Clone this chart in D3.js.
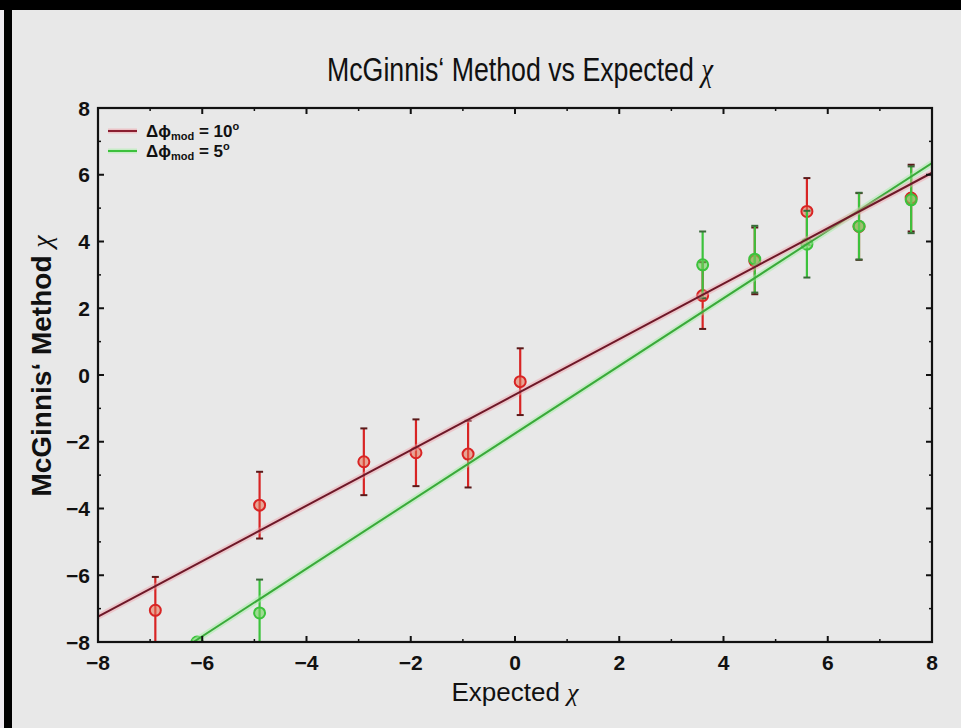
<!DOCTYPE html>
<html>
<head>
<meta charset="utf-8">
<script src="https://cdn.jsdelivr.net/npm/d3@7"></script>
<style>
  html, body { margin: 0; padding: 0; background: #000; }
  svg { display: block; }
</style>
</head>
<body>
<svg id="chart" width="961" height="728"></svg>
<script>
// Measurements: Δφ_mod = 10° (red) and Δφ_mod = 5° (green)
const redX   = [-6.9, -4.9, -2.9, -1.9, -0.9, 0.1, 3.6, 4.6, 5.6, 6.6, 7.6];
const redY   = [-7.05, -3.9, -2.6, -2.33, -2.37, -0.2, 2.38, 3.42, 4.9, 4.45, 5.3];
const redErr = [1, 1, 1, 1, 1, 1, 1, 1, 1, 1, 1];

const greenX   = [-6.1, -4.9, 3.6, 4.6, 5.6, 6.6, 7.6];
const greenY   = [-8.0, -7.13, 3.3, 3.47, 3.92, 4.46, 5.25];
const greenErr = [0, 1, 1, 1, 1, 1, 1];

// Linear fits, given by their end points
const redFitX   = [-8, 8];
const redFitY   = [-7.24, 6.06];
const greenFitX = [-6.17, 8];
const greenFitY = [-8, 6.35];

const majorTicks = [-8, -6, -4, -2, 0, 2, 4, 6, 8];
const minorTicks = [-7, -5, -3, -1, 1, 3, 5, 7];

const svg = d3.select("#chart");

// Light panel inside the dark frame
svg.append("rect").attr("x", 0).attr("y", 10).attr("width", 4).attr("height", 718).attr("fill", "#eeeaf0");
svg.append("rect").attr("x", 12).attr("y", 10).attr("width", 949).attr("height", 718).attr("fill", "#e8e8e8");

const L = 98, R = 932, T = 108, B = 642;
const x = d3.scaleLinear().domain([-8, 8]).range([L, R]);
const y = d3.scaleLinear().domain([-8, 8]).range([B, T]);

svg.append("defs").append("clipPath").attr("id", "plotClip")
  .append("rect").attr("x", L).attr("y", T).attr("width", R - L).attr("height", B - T);

const plot = svg.append("g").attr("clip-path", "url(#plotClip)");

function drawSeries(xs, ys, es, color, capColor, fill) {
  const pts = xs.map((v, i) => ({ x: v, y: ys[i], e: es[i] }));
  const g = plot.append("g");
  const withErr = pts.filter(d => d.e > 0);
  g.selectAll("line.bar").data(withErr).enter().append("line")
    .attr("x1", d => x(d.x)).attr("x2", d => x(d.x))
    .attr("y1", d => y(d.y - d.e)).attr("y2", d => y(d.y + d.e))
    .attr("stroke", color).attr("stroke-width", 2.2);
  [1, -1].forEach(s => {
    g.selectAll(null).data(withErr).enter().append("line")
      .attr("x1", d => x(d.x) - 3.5).attr("x2", d => x(d.x) + 3.5)
      .attr("y1", d => y(d.y + s * d.e)).attr("y2", d => y(d.y + s * d.e))
      .attr("stroke", capColor).attr("stroke-width", 2);
  });
  g.selectAll("circle").data(pts).enter().append("circle")
    .attr("cx", d => x(d.x)).attr("cy", d => y(d.y)).attr("r", 5.5)
    .attr("fill", fill).attr("stroke", color).attr("stroke-width", 2);
}

drawSeries(redX, redY, redErr, "#d82424", "#5a1a1a", "rgba(230,110,80,0.55)");
drawSeries(greenX, greenY, greenErr, "#3cc23c", "#3a6a3a", "rgba(110,210,90,0.6)");

function drawFit(xs, ys, color, glow) {
  const pts = xs.map((v, i) => [x(v), y(ys[i])]);
  const line = d3.line();
  plot.append("path").attr("d", line(pts)).attr("stroke", glow)
    .attr("stroke-width", 6).attr("fill", "none").attr("opacity", 0.45);
  plot.append("path").attr("d", line(pts)).attr("stroke", color)
    .attr("stroke-width", 2).attr("fill", "none");
}
drawFit(greenFitX, greenFitY, "#3aaa3a", "#9ef09e");
drawFit(redFitX, redFitY, "#6e1828", "#f0a0a8");

// Frame with inward ticks on all four sides
const axes = svg.append("g").attr("stroke", "#111");
axes.append("rect").attr("x", L).attr("y", T).attr("width", R - L).attr("height", B - T)
  .attr("fill", "none").attr("stroke-width", 2.2);

function ticks(vals, len, w) {
  vals.forEach(v => {
    axes.append("line").attr("x1", x(v)).attr("x2", x(v)).attr("y1", B).attr("y2", B - len).attr("stroke-width", w);
    axes.append("line").attr("x1", x(v)).attr("x2", x(v)).attr("y1", T).attr("y2", T + len).attr("stroke-width", w);
    axes.append("line").attr("y1", y(v)).attr("y2", y(v)).attr("x1", L).attr("x2", L + len).attr("stroke-width", w);
    axes.append("line").attr("y1", y(v)).attr("y2", y(v)).attr("x1", R).attr("x2", R - len).attr("stroke-width", w);
  });
}
ticks(majorTicks, 6, 2);
ticks(minorTicks, 3, 1.5);

const font = "'Liberation Sans', Arial, sans-serif";
const chiFont = "'Liberation Serif', serif";

// Tick labels
svg.append("g").selectAll("text").data(majorTicks).enter().append("text")
  .attr("x", d => x(d)).attr("y", 670).attr("text-anchor", "middle")
  .attr("font-family", font).attr("font-weight", "bold")
  .attr("font-size", 21).attr("fill", "#111")
  .text(d => d < 0 ? "\u2212" + Math.abs(d) : d);
svg.append("g").selectAll("text").data(majorTicks).enter().append("text")
  .attr("x", 90).attr("y", d => y(d) + 7.5).attr("text-anchor", "end")
  .attr("font-family", font).attr("font-weight", "bold")
  .attr("font-size", 21).attr("fill", "#111")
  .text(d => d < 0 ? "\u2212" + Math.abs(d) : d);

// Title, horizontally condensed
const title = svg.append("text").attr("transform", "translate(520,81) scale(0.81,1)")
  .attr("text-anchor", "middle")
  .attr("font-family", font).attr("font-size", 33).attr("fill", "#111");
title.append("tspan").text("McGinnis\u2018 Method vs Expected\u00a0");
title.append("tspan").attr("font-family", chiFont).attr("font-style", "italic").text("\u03c7");

// X axis label
const xl = svg.append("text").attr("x", 515).attr("y", 701).attr("text-anchor", "middle")
  .attr("font-family", font).attr("font-size", 26).attr("fill", "#111");
xl.append("tspan").text("Expected\u00a0");
xl.append("tspan").attr("font-family", chiFont).attr("font-style", "italic").text("\u03c7");

// Y axis label
const yl = svg.append("text").attr("transform", "translate(51,366) rotate(-90)").attr("text-anchor", "middle")
  .attr("font-family", font).attr("font-weight", "bold")
  .attr("font-size", 28).attr("fill", "#111");
yl.append("tspan").text("McGinnis\u2018 Method\u00a0");
yl.append("tspan").attr("font-family", chiFont).attr("font-style", "italic").attr("font-weight", "normal").text("\u03c7");

// Legend
const legendItems = [
  { color: "#8a1e30", glow: "#f0a0a8", label: "10" },
  { color: "#3cc03c", glow: "#a8f0a8", label: "5" }
];
const lg = svg.append("g");
legendItems.forEach((d, i) => {
  const ly = 131 + i * 20;
  lg.append("line").attr("x1", 108).attr("x2", 137).attr("y1", ly).attr("y2", ly)
    .attr("stroke", d.glow).attr("stroke-width", 5).attr("opacity", 0.5);
  lg.append("line").attr("x1", 108).attr("x2", 137).attr("y1", ly).attr("y2", ly)
    .attr("stroke", d.color).attr("stroke-width", 2);
  const t = lg.append("text").attr("x", 146).attr("y", ly + 6)
    .attr("font-family", font).attr("font-weight", "bold")
    .attr("font-size", 17).attr("fill", "#111");
  t.append("tspan").text("\u0394\u03d5");
  t.append("tspan").attr("font-size", 11).attr("dy", 3).text("mod");
  t.append("tspan").attr("dy", -3).text(" = " + d.label);
  t.append("tspan").attr("font-size", 11).attr("dy", -7).text("o");
});
</script>
</body>
</html>
